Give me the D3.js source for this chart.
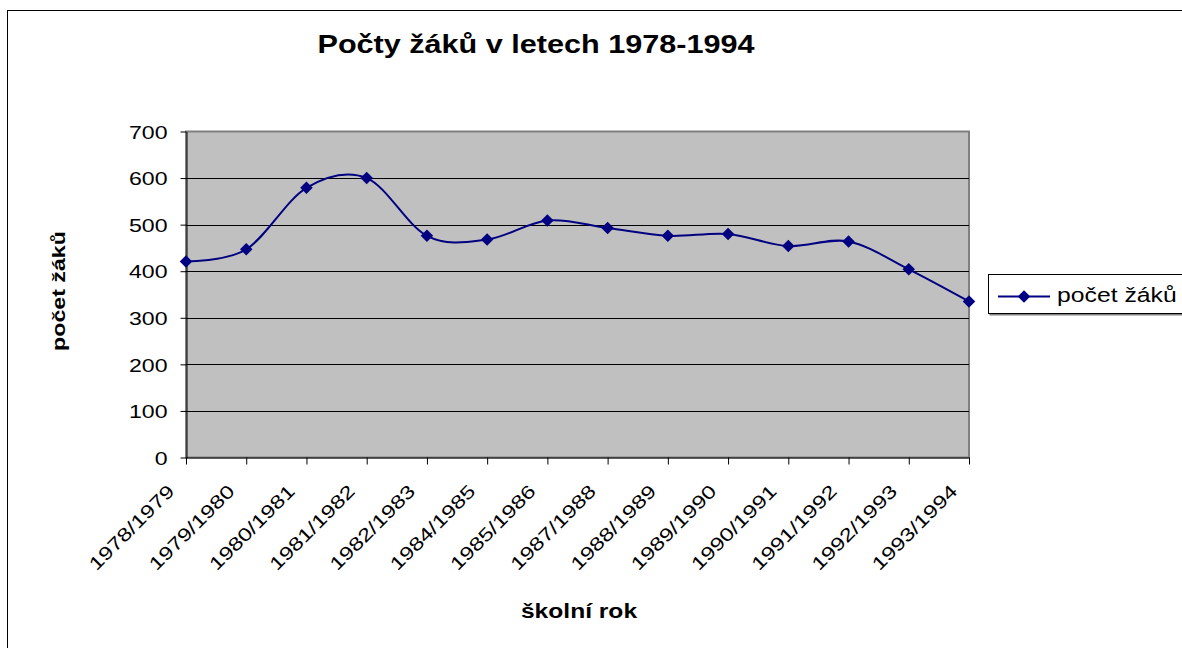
<!DOCTYPE html>
<html>
<head>
<meta charset="utf-8">
<script src="https://cdn.jsdelivr.net/npm/d3@7"></script>
<style>
  body { margin: 0; background: #fff; }
  text { font-family: "Liberation Sans", Arial, sans-serif; fill: #000; }
</style>
</head>
<body>
<svg id="chart"></svg>
<script>
// data
const years = ['1978/1979', '1979/1980', '1980/1981', '1981/1982', '1982/1983', '1984/1985', '1985/1986',
  '1987/1988', '1988/1989', '1989/1990', '1990/1991', '1991/1992', '1992/1993', '1993/1994'];
const pupils = [421, 447, 579, 600, 476, 468, 509, 493, 476, 480, 454, 464, 404, 335];
const yTicks = [0, 100, 200, 300, 400, 500, 600, 700];
const seriesName = 'počet žáků';

const width = 1182;
const height = 648;
const plot = { left: 186, right: 969, top: 131.5, bottom: 457.5 };
const navy = '#000080';
const stretch = 1.25; // the source font is drawn wider than Arial

const svg = d3.select('#chart')
  .attr('width', width)
  .attr('height', height);

// outer chart frame (runs off the right and bottom edge)
svg.append('rect')
  .attr('x', 7.5).attr('y', 10.5)
  .attr('width', width + 20).attr('height', height + 20)
  .attr('fill', '#fff').attr('stroke', '#000');

// scales
const x = d3.scalePoint()
  .domain(years)
  .range([plot.left, plot.right]);

const y = d3.scaleLinear()
  .domain([0, 700])
  .range([plot.bottom, plot.top]);

// plot area
svg.append('rect')
  .attr('x', plot.left).attr('y', plot.top)
  .attr('width', plot.right - plot.left).attr('height', plot.bottom - plot.top)
  .attr('fill', '#c0c0c0')
  .attr('stroke', '#808080').attr('stroke-width', 2);

// gridlines
svg.append('g')
  .selectAll('line')
  .data(yTicks.filter(d => d > 0 && d < 700))
  .enter()
  .append('line')
  .attr('x1', plot.left).attr('x2', plot.right)
  .attr('y1', d => Math.round(y(d)) + 0.5).attr('y2', d => Math.round(y(d)) + 0.5)
  .attr('stroke', '#000');

// axes
const yAxis = svg.append('g')
  .attr('transform', `translate(${plot.left + 0.5}, 0)`)
  .call(d3.axisLeft(y).tickValues(yTicks).tickSize(6).tickSizeOuter(0));

yAxis.selectAll('text')
  .attr('x', null).attr('dy', '0.36em')
  .attr('transform', `translate(-19,0) scale(${stretch},1)`)
  .style('font-size', '18.5px')
  .style('font-family', '"Liberation Sans", Arial, sans-serif');

const xAxis = svg.append('g')
  .attr('transform', `translate(0, ${plot.bottom})`)
  .call(d3.axisBottom(x).tickSize(7).tickSizeOuter(0));

xAxis.selectAll('text')
  .attr('y', null).attr('dy', null)
  .attr('text-anchor', 'end')
  .attr('transform', `translate(-11,35) rotate(-45) scale(1.28,1)`)
  .style('font-size', '18.5px')
  .style('font-family', '"Liberation Sans", Arial, sans-serif');

svg.selectAll('.domain, .tick line').attr('stroke', '#000');

// smoothed line like Excel's
const line = d3.line()
  .x((d, i) => x(years[i]))
  .y(d => y(d))
  .curve(d3.curveCatmullRom.alpha(0));

svg.append('path')
  .datum(pupils)
  .attr('d', line)
  .attr('fill', 'none')
  .attr('stroke', navy)
  .attr('stroke-width', 2);

const diamond = d3.symbol().type(d3.symbolSquare).size(78);

svg.selectAll('.dot')
  .data(pupils)
  .enter()
  .append('path')
  .attr('class', 'dot')
  .attr('d', diamond)
  .attr('transform', (d, i) => `translate(${x(years[i])},${y(d)}) rotate(45)`)
  .attr('fill', navy);

// titles
svg.append('text')
  .attr('transform', `translate(536,53) scale(1.2,1)`)
  .attr('text-anchor', 'middle')
  .style('font-size', '25.5px').style('font-weight', 'bold')
  .text('Počty žáků v letech 1978-1994');

svg.append('text')
  .attr('transform', `translate(579,618) scale(1.2,1)`)
  .attr('text-anchor', 'middle')
  .style('font-size', '20.5px').style('font-weight', 'bold')
  .text('školní rok');

svg.append('text')
  .attr('transform', `translate(65,291) rotate(-90) scale(1.22,1)`)
  .attr('text-anchor', 'middle')
  .style('font-size', '19px').style('font-weight', 'bold')
  .text('počet žáků');

// legend
const legend = svg.append('g');

legend.append('rect')
  .attr('x', 989.5).attr('y', 275.5)
  .attr('width', 300).attr('height', 40)
  .attr('fill', '#808080');

legend.append('rect')
  .attr('x', 988.5).attr('y', 274.5)
  .attr('width', 300).attr('height', 39)
  .attr('fill', '#fff').attr('stroke', '#000');

legend.append('line')
  .attr('x1', 998).attr('x2', 1050)
  .attr('y1', 296.5).attr('y2', 296.5)
  .attr('stroke', navy).attr('stroke-width', 2);

legend.append('path')
  .attr('d', diamond)
  .attr('transform', 'translate(1024,296.5) rotate(45)')
  .attr('fill', navy);

legend.append('text')
  .attr('transform', `translate(1057,302) scale(1.27,1)`)
  .style('font-size', '19.5px')
  .text(seriesName);
</script>
</body>
</html>
